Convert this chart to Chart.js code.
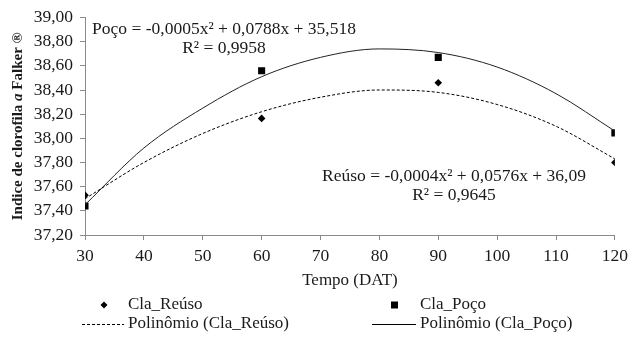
<!DOCTYPE html>
<html>
<head>
<meta charset="utf-8">
<script src="https://cdn.jsdelivr.net/npm/chart.js@4/dist/chart.umd.min.js"></script>
<style>
  html, body { margin: 0; padding: 0; background: #fff; }
  #wrap { width: 634px; height: 338px; }
</style>
</head>
<body>
<div id="wrap"><canvas id="chart" width="634" height="338"></canvas></div>
<script>
// --- data ---
const days = [30, 60, 90, 120];
const reusoValues = [37.53, 38.165, 38.46, 37.80];
const pocoValues = [37.44, 38.56, 38.67, 38.045];

// trend curves as drawn in the figure
const trendDays = [30, 40, 50, 60, 70, 80, 90, 100, 110, 120];
const reusoTrend = [37.50, 37.80, 38.04, 38.22, 38.34, 38.40, 38.38, 38.28, 38.10, 37.83];
const pocoTrend = [37.45, 37.92, 38.25, 38.51, 38.67, 38.74, 38.71, 38.59, 38.37, 38.06];

const yTicks = [37.2, 37.4, 37.6, 37.8, 38.0, 38.2, 38.4, 38.6, 38.8, 39.0];

const eqPoco = ['Poço = -0,0005x² + 0,0788x + 35,518', 'R² = 0,9958'];
const eqReuso = ['Reúso = -0,0004x² + 0,0576x + 36,09', 'R² = 0,9645'];

const serif = '"Liberation Serif", "Times New Roman", serif';
const ink = '#1a1a1a';
const axisGray = '#8a8a8a';

const toPoints = (xs, ys) => xs.map((x, i) => ({ x: x, y: ys[i] }));
const fmt = v => v.toFixed(2).replace('.', ',');

// text, equations and legend drawn straight onto the canvas
const annotations = {
    id: 'annotations',
    afterDraw(chart) {
        const ctx = chart.ctx;
        const area = chart.chartArea;
        ctx.save();
        ctx.fillStyle = ink;
        ctx.textBaseline = 'middle';

        // equations
        ctx.font = '17.5px ' + serif;
        ctx.textAlign = 'center';
        ctx.fillText(eqPoco[0], 224, 29);
        ctx.fillText(eqPoco[1], 224, 48);
        ctx.fillText(eqReuso[0], 454, 176);
        ctx.fillText(eqReuso[1], 454, 195);

        // x title
        ctx.font = '17px ' + serif;
        ctx.fillText('Tempo (DAT)', (area.left + area.right) / 2, 281);

        // y title with the italic "a"
        const parts = [
            ['Indice de clorofila ', 'bold 15px ' + serif],
            ['a', 'italic bold 15px ' + serif],
            [' Falker ®', 'bold 15px ' + serif]
        ];
        let total = 0;
        parts.forEach(p => { ctx.font = p[1]; total += ctx.measureText(p[0]).width; });
        ctx.translate(18, (area.top + area.bottom) / 2);
        ctx.rotate(-Math.PI / 2);
        ctx.textAlign = 'left';
        let px = -total / 2;
        parts.forEach(p => {
            ctx.font = p[1];
            ctx.fillText(p[0], px, 0);
            px += ctx.measureText(p[0]).width;
        });
        ctx.setTransform(1, 0, 0, 1, 0, 0);

        // legend
        const ds = chart.data.datasets;
        ctx.font = '17px ' + serif;
        ctx.textAlign = 'left';
        const row1 = 305, row2 = 324;
        ctx.fillStyle = '#000';
        // diamond
        ctx.beginPath();
        ctx.moveTo(104, row1 - 3.5); ctx.lineTo(107.5, row1);
        ctx.lineTo(104, row1 + 3.5); ctx.lineTo(100.5, row1);
        ctx.closePath(); ctx.fill();
        // square
        ctx.fillRect(391, row1 - 3.5, 7, 7);
        ctx.fillStyle = ink;
        ctx.fillText(ds[2].label, 128, row1);
        ctx.fillText(ds[3].label, 420, row1);
        ctx.fillText(ds[0].label, 128, row2);
        ctx.fillText(ds[1].label, 420, row2);
        ctx.strokeStyle = '#000';
        ctx.lineWidth = 1;
        ctx.setLineDash([3, 2]);
        ctx.beginPath(); ctx.moveTo(82, row2 + 0.5); ctx.lineTo(124, row2 + 0.5); ctx.stroke();
        ctx.setLineDash([]);
        ctx.beginPath(); ctx.moveTo(372, row2 + 0.5); ctx.lineTo(416, row2 + 0.5); ctx.stroke();
        ctx.restore();
    }
};

new Chart(document.getElementById('chart'), {
    type: 'scatter',
    data: {
        datasets: [
            {
                label: 'Polinômio (Cla_Reúso)',
                data: toPoints(trendDays, reusoTrend),
                showLine: true,
                borderColor: '#000',
                borderWidth: 1,
                borderDash: [3, 2],
                pointRadius: 0,
                cubicInterpolationMode: 'monotone'
            },
            {
                label: 'Polinômio (Cla_Poço)',
                data: toPoints(trendDays, pocoTrend),
                showLine: true,
                borderColor: '#222',
                borderWidth: 1,
                pointRadius: 0,
                cubicInterpolationMode: 'monotone'
            },
            {
                label: 'Cla_Reúso',
                data: toPoints(days, reusoValues),
                pointStyle: 'rectRot',
                pointRadius: 3.8,
                backgroundColor: '#000',
                borderColor: '#000',
                borderWidth: 0
            },
            {
                label: 'Cla_Poço',
                data: toPoints(days, pocoValues),
                pointStyle: 'rect',
                pointRadius: 5,
                backgroundColor: '#000',
                borderColor: '#000',
                borderWidth: 0
            }
        ]
    },
    options: {
        responsive: false,
        animation: false,
        devicePixelRatio: 1,
        layout: { padding: { top: 15, right: 14, bottom: 0, left: 0 } },
        plugins: {
            legend: { display: false },
            tooltip: { enabled: false }
        },
        scales: {
            x: {
                type: 'linear',
                min: 30,
                max: 120,
                afterFit: s => { s.height = 103; },
                ticks: { stepSize: 10, padding: 6, color: ink, font: { family: serif, size: 17.5 } },
                grid: { drawOnChartArea: false, tickLength: 5, color: axisGray },
                border: { color: axisGray }
            },
            y: {
                min: 37.2,
                max: 39.0,
                afterFit: s => { s.width = 85; },
                afterBuildTicks: s => { s.ticks = yTicks.map(v => ({ value: v })); },
                ticks: { padding: 7, color: ink, font: { family: serif, size: 17.5 }, callback: v => fmt(v) },
                grid: { drawOnChartArea: false, tickLength: 5, color: axisGray },
                border: { color: axisGray }
            }
        }
    },
    plugins: [annotations]
});
</script>
</body>
</html>
